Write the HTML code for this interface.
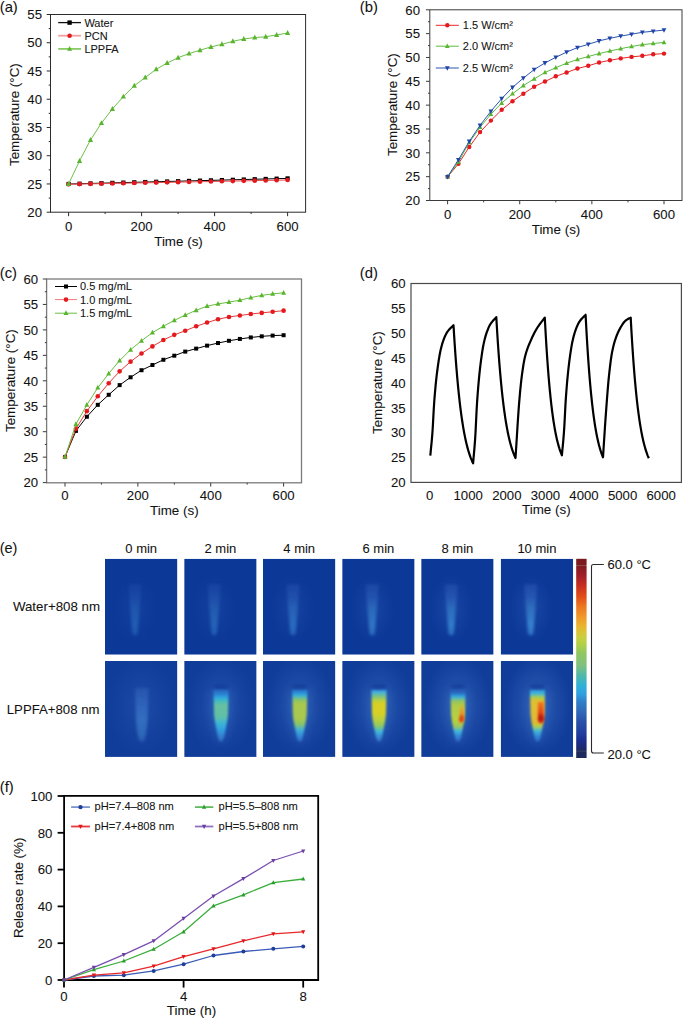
<!DOCTYPE html><html><head><meta charset="utf-8"><style>html,body{margin:0;padding:0;background:#fff;}svg{display:block;font-family:"Liberation Sans", sans-serif;} text{stroke:#222;stroke-width:0.08px;}</style></head><body>
<svg width="685" height="1019" viewBox="0 0 685 1019">
<rect width="685" height="1019" fill="#fff"/>
<rect x="50.5" y="14.5" width="255.1" height="197.7" stroke="#2b2b2b" stroke-width="1" fill="none" />
<line x1="46.7" y1="212.2" x2="50.5" y2="212.2" stroke="#2b2b2b" stroke-width="1" />
<text x="42" y="216.9" font-size="13.2" text-anchor="end" fill="#111" >20</text>
<line x1="46.7" y1="183.96" x2="50.5" y2="183.96" stroke="#2b2b2b" stroke-width="1" />
<text x="42" y="188.66" font-size="13.2" text-anchor="end" fill="#111" >25</text>
<line x1="46.7" y1="155.71" x2="50.5" y2="155.71" stroke="#2b2b2b" stroke-width="1" />
<text x="42" y="160.41" font-size="13.2" text-anchor="end" fill="#111" >30</text>
<line x1="46.7" y1="127.47" x2="50.5" y2="127.47" stroke="#2b2b2b" stroke-width="1" />
<text x="42" y="132.17" font-size="13.2" text-anchor="end" fill="#111" >35</text>
<line x1="46.7" y1="99.23" x2="50.5" y2="99.23" stroke="#2b2b2b" stroke-width="1" />
<text x="42" y="103.93" font-size="13.2" text-anchor="end" fill="#111" >40</text>
<line x1="46.7" y1="70.99" x2="50.5" y2="70.99" stroke="#2b2b2b" stroke-width="1" />
<text x="42" y="75.69" font-size="13.2" text-anchor="end" fill="#111" >45</text>
<line x1="46.7" y1="42.74" x2="50.5" y2="42.74" stroke="#2b2b2b" stroke-width="1" />
<text x="42" y="47.44" font-size="13.2" text-anchor="end" fill="#111" >50</text>
<line x1="46.7" y1="14.5" x2="50.5" y2="14.5" stroke="#2b2b2b" stroke-width="1" />
<text x="42" y="19.2" font-size="13.2" text-anchor="end" fill="#111" >55</text>
<line x1="48.7" y1="198.08" x2="50.5" y2="198.08" stroke="#2b2b2b" stroke-width="1" />
<line x1="48.7" y1="169.84" x2="50.5" y2="169.84" stroke="#2b2b2b" stroke-width="1" />
<line x1="48.7" y1="141.59" x2="50.5" y2="141.59" stroke="#2b2b2b" stroke-width="1" />
<line x1="48.7" y1="113.35" x2="50.5" y2="113.35" stroke="#2b2b2b" stroke-width="1" />
<line x1="48.7" y1="85.11" x2="50.5" y2="85.11" stroke="#2b2b2b" stroke-width="1" />
<line x1="48.7" y1="56.86" x2="50.5" y2="56.86" stroke="#2b2b2b" stroke-width="1" />
<line x1="48.7" y1="28.62" x2="50.5" y2="28.62" stroke="#2b2b2b" stroke-width="1" />
<line x1="68.6" y1="212.2" x2="68.6" y2="216.2" stroke="#2b2b2b" stroke-width="1" />
<text x="68.6" y="230.8" font-size="13.2" text-anchor="middle" fill="#111" >0</text>
<line x1="141.6" y1="212.2" x2="141.6" y2="216.2" stroke="#2b2b2b" stroke-width="1" />
<text x="141.6" y="230.8" font-size="13.2" text-anchor="middle" fill="#111" >200</text>
<line x1="214.6" y1="212.2" x2="214.6" y2="216.2" stroke="#2b2b2b" stroke-width="1" />
<text x="214.6" y="230.8" font-size="13.2" text-anchor="middle" fill="#111" >400</text>
<line x1="287.6" y1="212.2" x2="287.6" y2="216.2" stroke="#2b2b2b" stroke-width="1" />
<text x="287.6" y="230.8" font-size="13.2" text-anchor="middle" fill="#111" >600</text>
<line x1="105.1" y1="212.2" x2="105.1" y2="214" stroke="#2b2b2b" stroke-width="1" />
<line x1="178.1" y1="212.2" x2="178.1" y2="214" stroke="#2b2b2b" stroke-width="1" />
<line x1="251.1" y1="212.2" x2="251.1" y2="214" stroke="#2b2b2b" stroke-width="1" />
<text x="0" y="0" font-size="13.4" text-anchor="middle" fill="#111" transform="translate(18.8,114.6) rotate(-90)">Temperature (°C)</text>
<text x="178.5" y="246.1" font-size="13.4" text-anchor="middle" fill="#111" >Time (s)</text>
<text x="-0.3" y="11.6" font-size="14.8" text-anchor="start" fill="#111" >(a)</text>
<polyline points="68.6,184 79.55,183.72 90.5,183.44 101.45,183.16 112.4,182.88 123.35,182.6 134.3,182.32 145.25,182.04 156.2,181.76 167.15,181.48 178.1,181.2 189.05,180.92 200,180.64 210.95,180.36 221.9,180.08 232.85,179.8 243.8,179.52 254.75,179.24 265.7,178.96 276.65,178.68 287.6,178.4" fill="none" stroke="#000" stroke-width="1" stroke-linejoin="round" />
<rect x="66.5" y="181.9" width="4.2" height="4.2" fill="#000"/>
<rect x="77.45" y="181.62" width="4.2" height="4.2" fill="#000"/>
<rect x="88.4" y="181.34" width="4.2" height="4.2" fill="#000"/>
<rect x="99.35" y="181.06" width="4.2" height="4.2" fill="#000"/>
<rect x="110.3" y="180.78" width="4.2" height="4.2" fill="#000"/>
<rect x="121.25" y="180.5" width="4.2" height="4.2" fill="#000"/>
<rect x="132.2" y="180.22" width="4.2" height="4.2" fill="#000"/>
<rect x="143.15" y="179.94" width="4.2" height="4.2" fill="#000"/>
<rect x="154.1" y="179.66" width="4.2" height="4.2" fill="#000"/>
<rect x="165.05" y="179.38" width="4.2" height="4.2" fill="#000"/>
<rect x="176" y="179.1" width="4.2" height="4.2" fill="#000"/>
<rect x="186.95" y="178.82" width="4.2" height="4.2" fill="#000"/>
<rect x="197.9" y="178.54" width="4.2" height="4.2" fill="#000"/>
<rect x="208.85" y="178.26" width="4.2" height="4.2" fill="#000"/>
<rect x="219.8" y="177.98" width="4.2" height="4.2" fill="#000"/>
<rect x="230.75" y="177.7" width="4.2" height="4.2" fill="#000"/>
<rect x="241.7" y="177.42" width="4.2" height="4.2" fill="#000"/>
<rect x="252.65" y="177.14" width="4.2" height="4.2" fill="#000"/>
<rect x="263.6" y="176.86" width="4.2" height="4.2" fill="#000"/>
<rect x="274.55" y="176.58" width="4.2" height="4.2" fill="#000"/>
<rect x="285.5" y="176.3" width="4.2" height="4.2" fill="#000"/>
<polyline points="68.6,184.3 79.55,184.09 90.5,183.87 101.45,183.66 112.4,183.44 123.35,183.23 134.3,183.01 145.25,182.8 156.2,182.58 167.15,182.37 178.1,182.15 189.05,181.94 200,181.72 210.95,181.51 221.9,181.29 232.85,181.08 243.8,180.86 254.75,180.65 265.7,180.43 276.65,180.22 287.6,180" fill="none" stroke="#e85050" stroke-width="1" stroke-linejoin="round" />
<circle cx="68.6" cy="184.3" r="2.3" fill="#e4191e"/>
<circle cx="79.55" cy="184.09" r="2.3" fill="#e4191e"/>
<circle cx="90.5" cy="183.87" r="2.3" fill="#e4191e"/>
<circle cx="101.45" cy="183.66" r="2.3" fill="#e4191e"/>
<circle cx="112.4" cy="183.44" r="2.3" fill="#e4191e"/>
<circle cx="123.35" cy="183.23" r="2.3" fill="#e4191e"/>
<circle cx="134.3" cy="183.01" r="2.3" fill="#e4191e"/>
<circle cx="145.25" cy="182.8" r="2.3" fill="#e4191e"/>
<circle cx="156.2" cy="182.58" r="2.3" fill="#e4191e"/>
<circle cx="167.15" cy="182.37" r="2.3" fill="#e4191e"/>
<circle cx="178.1" cy="182.15" r="2.3" fill="#e4191e"/>
<circle cx="189.05" cy="181.94" r="2.3" fill="#e4191e"/>
<circle cx="200" cy="181.72" r="2.3" fill="#e4191e"/>
<circle cx="210.95" cy="181.51" r="2.3" fill="#e4191e"/>
<circle cx="221.9" cy="181.29" r="2.3" fill="#e4191e"/>
<circle cx="232.85" cy="181.08" r="2.3" fill="#e4191e"/>
<circle cx="243.8" cy="180.86" r="2.3" fill="#e4191e"/>
<circle cx="254.75" cy="180.65" r="2.3" fill="#e4191e"/>
<circle cx="265.7" cy="180.43" r="2.3" fill="#e4191e"/>
<circle cx="276.65" cy="180.22" r="2.3" fill="#e4191e"/>
<circle cx="287.6" cy="180" r="2.3" fill="#e4191e"/>
<polyline points="68.6,184 79.55,160.9 90.5,139.9 101.45,123.1 112.4,108.9 123.35,96.6 134.3,85.7 145.25,77.5 156.2,69.3 167.15,63 178.1,57.7 189.05,53.6 200,50.2 210.95,46.9 221.9,44.3 232.85,41.3 243.8,39 254.75,37.5 265.7,36.8 276.65,34.9 287.6,33" fill="none" stroke="#6cc04a" stroke-width="1" stroke-linejoin="round" />
<path d="M68.6,181.04 L71.2,185.98 L66,185.98Z" fill="#5ab52e"/>
<path d="M79.55,157.94 L82.15,162.88 L76.95,162.88Z" fill="#5ab52e"/>
<path d="M90.5,136.94 L93.1,141.88 L87.9,141.88Z" fill="#5ab52e"/>
<path d="M101.45,120.14 L104.05,125.08 L98.85,125.08Z" fill="#5ab52e"/>
<path d="M112.4,105.94 L115,110.88 L109.8,110.88Z" fill="#5ab52e"/>
<path d="M123.35,93.64 L125.95,98.58 L120.75,98.58Z" fill="#5ab52e"/>
<path d="M134.3,82.74 L136.9,87.68 L131.7,87.68Z" fill="#5ab52e"/>
<path d="M145.25,74.54 L147.85,79.48 L142.65,79.48Z" fill="#5ab52e"/>
<path d="M156.2,66.34 L158.8,71.28 L153.6,71.28Z" fill="#5ab52e"/>
<path d="M167.15,60.04 L169.75,64.98 L164.55,64.98Z" fill="#5ab52e"/>
<path d="M178.1,54.74 L180.7,59.68 L175.5,59.68Z" fill="#5ab52e"/>
<path d="M189.05,50.64 L191.65,55.58 L186.45,55.58Z" fill="#5ab52e"/>
<path d="M200,47.24 L202.6,52.18 L197.4,52.18Z" fill="#5ab52e"/>
<path d="M210.95,43.94 L213.55,48.88 L208.35,48.88Z" fill="#5ab52e"/>
<path d="M221.9,41.34 L224.5,46.28 L219.3,46.28Z" fill="#5ab52e"/>
<path d="M232.85,38.34 L235.45,43.28 L230.25,43.28Z" fill="#5ab52e"/>
<path d="M243.8,36.04 L246.4,40.98 L241.2,40.98Z" fill="#5ab52e"/>
<path d="M254.75,34.54 L257.35,39.48 L252.15,39.48Z" fill="#5ab52e"/>
<path d="M265.7,33.84 L268.3,38.78 L263.1,38.78Z" fill="#5ab52e"/>
<path d="M276.65,31.94 L279.25,36.88 L274.05,36.88Z" fill="#5ab52e"/>
<path d="M287.6,30.04 L290.2,34.98 L285,34.98Z" fill="#5ab52e"/>
<line x1="58.2" y1="22.6" x2="81" y2="22.6" stroke="#111" stroke-width="1.3" />
<rect x="67.4" y="20.4" width="4.4" height="4.4" fill="#000"/>
<text x="84.4" y="26.56" font-size="11" text-anchor="start" fill="#111" >Water</text>
<line x1="58.2" y1="35.7" x2="81" y2="35.7" stroke="#f4a0a0" stroke-width="1.8" />
<circle cx="69.6" cy="35.7" r="2.3" fill="#e4191e"/>
<text x="84.4" y="39.66" font-size="11" text-anchor="start" fill="#111" >PCN</text>
<line x1="58.2" y1="48.9" x2="81" y2="48.9" stroke="#88cc66" stroke-width="1.8" />
<path d="M69.6,46.05 L72.1,50.8 L67.1,50.8Z" fill="#5ab52e"/>
<text x="84.4" y="52.86" font-size="11" text-anchor="start" fill="#111" >LPPFA</text>
<rect x="429.8" y="9.8" width="252.2" height="190.7" stroke="#3a3a3a" stroke-width="1" fill="none" />
<line x1="426" y1="200.5" x2="429.8" y2="200.5" stroke="#3a3a3a" stroke-width="1" />
<text x="420" y="205.2" font-size="13.2" text-anchor="end" fill="#111" >20</text>
<line x1="426" y1="176.66" x2="429.8" y2="176.66" stroke="#3a3a3a" stroke-width="1" />
<text x="420" y="181.36" font-size="13.2" text-anchor="end" fill="#111" >25</text>
<line x1="426" y1="152.82" x2="429.8" y2="152.82" stroke="#3a3a3a" stroke-width="1" />
<text x="420" y="157.52" font-size="13.2" text-anchor="end" fill="#111" >30</text>
<line x1="426" y1="128.99" x2="429.8" y2="128.99" stroke="#3a3a3a" stroke-width="1" />
<text x="420" y="133.69" font-size="13.2" text-anchor="end" fill="#111" >35</text>
<line x1="426" y1="105.15" x2="429.8" y2="105.15" stroke="#3a3a3a" stroke-width="1" />
<text x="420" y="109.85" font-size="13.2" text-anchor="end" fill="#111" >40</text>
<line x1="426" y1="81.31" x2="429.8" y2="81.31" stroke="#3a3a3a" stroke-width="1" />
<text x="420" y="86.01" font-size="13.2" text-anchor="end" fill="#111" >45</text>
<line x1="426" y1="57.47" x2="429.8" y2="57.47" stroke="#3a3a3a" stroke-width="1" />
<text x="420" y="62.17" font-size="13.2" text-anchor="end" fill="#111" >50</text>
<line x1="426" y1="33.64" x2="429.8" y2="33.64" stroke="#3a3a3a" stroke-width="1" />
<text x="420" y="38.34" font-size="13.2" text-anchor="end" fill="#111" >55</text>
<line x1="426" y1="9.8" x2="429.8" y2="9.8" stroke="#3a3a3a" stroke-width="1" />
<text x="420" y="14.5" font-size="13.2" text-anchor="end" fill="#111" >60</text>
<line x1="428" y1="188.58" x2="429.8" y2="188.58" stroke="#3a3a3a" stroke-width="1" />
<line x1="428" y1="164.74" x2="429.8" y2="164.74" stroke="#3a3a3a" stroke-width="1" />
<line x1="428" y1="140.91" x2="429.8" y2="140.91" stroke="#3a3a3a" stroke-width="1" />
<line x1="428" y1="117.07" x2="429.8" y2="117.07" stroke="#3a3a3a" stroke-width="1" />
<line x1="428" y1="93.23" x2="429.8" y2="93.23" stroke="#3a3a3a" stroke-width="1" />
<line x1="428" y1="69.39" x2="429.8" y2="69.39" stroke="#3a3a3a" stroke-width="1" />
<line x1="428" y1="45.56" x2="429.8" y2="45.56" stroke="#3a3a3a" stroke-width="1" />
<line x1="428" y1="21.72" x2="429.8" y2="21.72" stroke="#3a3a3a" stroke-width="1" />
<line x1="447.6" y1="200.5" x2="447.6" y2="204.3" stroke="#3a3a3a" stroke-width="1" />
<text x="447.6" y="218.7" font-size="13.2" text-anchor="middle" fill="#111" >0</text>
<line x1="519.73" y1="200.5" x2="519.73" y2="204.3" stroke="#3a3a3a" stroke-width="1" />
<text x="519.73" y="218.7" font-size="13.2" text-anchor="middle" fill="#111" >200</text>
<line x1="591.87" y1="200.5" x2="591.87" y2="204.3" stroke="#3a3a3a" stroke-width="1" />
<text x="591.87" y="218.7" font-size="13.2" text-anchor="middle" fill="#111" >400</text>
<line x1="664" y1="200.5" x2="664" y2="204.3" stroke="#3a3a3a" stroke-width="1" />
<text x="664" y="218.7" font-size="13.2" text-anchor="middle" fill="#111" >600</text>
<line x1="483.67" y1="200.5" x2="483.67" y2="202.3" stroke="#3a3a3a" stroke-width="1" />
<line x1="555.8" y1="200.5" x2="555.8" y2="202.3" stroke="#3a3a3a" stroke-width="1" />
<line x1="627.93" y1="200.5" x2="627.93" y2="202.3" stroke="#3a3a3a" stroke-width="1" />
<text x="0" y="0" font-size="13.4" text-anchor="middle" fill="#111" transform="translate(397.2,104.6) rotate(-90)">Temperature (°C)</text>
<text x="556" y="234.1" font-size="13.4" text-anchor="middle" fill="#111" >Time (s)</text>
<text x="359.8" y="11.6" font-size="14.8" text-anchor="start" fill="#111" >(b)</text>
<polyline points="447.6,176.8 458.42,163.8 469.24,147 480.06,132.1 490.88,120.6 501.7,109.8 512.52,101.2 523.34,93.8 534.16,86.7 544.98,81.5 555.8,76.3 566.62,72.5 577.44,68.5 588.26,65.8 599.08,62.5 609.9,60.3 620.72,58.4 631.54,56.9 642.36,55.8 653.18,54.3 664,53.6" fill="none" stroke="#e8262a" stroke-width="1" stroke-linejoin="round" />
<circle cx="447.6" cy="176.8" r="2.2" fill="#e4191e"/>
<circle cx="458.42" cy="163.8" r="2.2" fill="#e4191e"/>
<circle cx="469.24" cy="147" r="2.2" fill="#e4191e"/>
<circle cx="480.06" cy="132.1" r="2.2" fill="#e4191e"/>
<circle cx="490.88" cy="120.6" r="2.2" fill="#e4191e"/>
<circle cx="501.7" cy="109.8" r="2.2" fill="#e4191e"/>
<circle cx="512.52" cy="101.2" r="2.2" fill="#e4191e"/>
<circle cx="523.34" cy="93.8" r="2.2" fill="#e4191e"/>
<circle cx="534.16" cy="86.7" r="2.2" fill="#e4191e"/>
<circle cx="544.98" cy="81.5" r="2.2" fill="#e4191e"/>
<circle cx="555.8" cy="76.3" r="2.2" fill="#e4191e"/>
<circle cx="566.62" cy="72.5" r="2.2" fill="#e4191e"/>
<circle cx="577.44" cy="68.5" r="2.2" fill="#e4191e"/>
<circle cx="588.26" cy="65.8" r="2.2" fill="#e4191e"/>
<circle cx="599.08" cy="62.5" r="2.2" fill="#e4191e"/>
<circle cx="609.9" cy="60.3" r="2.2" fill="#e4191e"/>
<circle cx="620.72" cy="58.4" r="2.2" fill="#e4191e"/>
<circle cx="631.54" cy="56.9" r="2.2" fill="#e4191e"/>
<circle cx="642.36" cy="55.8" r="2.2" fill="#e4191e"/>
<circle cx="653.18" cy="54.3" r="2.2" fill="#e4191e"/>
<circle cx="664" cy="53.6" r="2.2" fill="#e4191e"/>
<polyline points="447.6,176.8 458.42,161.9 469.24,142.5 480.06,127.3 490.88,114.2 501.7,103.1 512.52,93.8 523.34,85.6 534.16,78.9 544.98,72.5 555.8,67.7 566.62,63.2 577.44,59.5 588.26,56.5 599.08,53.6 609.9,51 620.72,48.7 631.54,46.5 642.36,44.6 653.18,43.5 664,42.4" fill="none" stroke="#5dbb46" stroke-width="1" stroke-linejoin="round" />
<path d="M447.6,174.06 L450,178.62 L445.2,178.62Z" fill="#5ab52e"/>
<path d="M458.42,159.16 L460.82,163.72 L456.02,163.72Z" fill="#5ab52e"/>
<path d="M469.24,139.76 L471.64,144.32 L466.84,144.32Z" fill="#5ab52e"/>
<path d="M480.06,124.56 L482.46,129.12 L477.66,129.12Z" fill="#5ab52e"/>
<path d="M490.88,111.46 L493.28,116.02 L488.48,116.02Z" fill="#5ab52e"/>
<path d="M501.7,100.36 L504.1,104.92 L499.3,104.92Z" fill="#5ab52e"/>
<path d="M512.52,91.06 L514.92,95.62 L510.12,95.62Z" fill="#5ab52e"/>
<path d="M523.34,82.86 L525.74,87.42 L520.94,87.42Z" fill="#5ab52e"/>
<path d="M534.16,76.16 L536.56,80.72 L531.76,80.72Z" fill="#5ab52e"/>
<path d="M544.98,69.76 L547.38,74.32 L542.58,74.32Z" fill="#5ab52e"/>
<path d="M555.8,64.96 L558.2,69.52 L553.4,69.52Z" fill="#5ab52e"/>
<path d="M566.62,60.46 L569.02,65.02 L564.22,65.02Z" fill="#5ab52e"/>
<path d="M577.44,56.76 L579.84,61.32 L575.04,61.32Z" fill="#5ab52e"/>
<path d="M588.26,53.76 L590.66,58.32 L585.86,58.32Z" fill="#5ab52e"/>
<path d="M599.08,50.86 L601.48,55.42 L596.68,55.42Z" fill="#5ab52e"/>
<path d="M609.9,48.26 L612.3,52.82 L607.5,52.82Z" fill="#5ab52e"/>
<path d="M620.72,45.96 L623.12,50.52 L618.32,50.52Z" fill="#5ab52e"/>
<path d="M631.54,43.76 L633.94,48.32 L629.14,48.32Z" fill="#5ab52e"/>
<path d="M642.36,41.86 L644.76,46.42 L639.96,46.42Z" fill="#5ab52e"/>
<path d="M653.18,40.76 L655.58,45.32 L650.78,45.32Z" fill="#5ab52e"/>
<path d="M664,39.66 L666.4,44.22 L661.6,44.22Z" fill="#5ab52e"/>
<polyline points="447.6,176.8 458.42,159.7 469.24,141.4 480.06,125.4 490.88,111.3 501.7,98.6 512.52,87.4 523.34,78.1 534.16,69.6 544.98,62.9 555.8,57.3 566.62,52.1 577.44,47.6 588.26,44.3 599.08,40.9 609.9,38.3 620.72,36.1 631.54,34.2 642.36,32.3 653.18,31.2 664,30.1" fill="none" stroke="#2d55b0" stroke-width="1" stroke-linejoin="round" />
<path d="M447.6,179.54 L450,174.98 L445.2,174.98Z" fill="#1f45a8"/>
<path d="M458.42,162.44 L460.82,157.88 L456.02,157.88Z" fill="#1f45a8"/>
<path d="M469.24,144.14 L471.64,139.58 L466.84,139.58Z" fill="#1f45a8"/>
<path d="M480.06,128.14 L482.46,123.58 L477.66,123.58Z" fill="#1f45a8"/>
<path d="M490.88,114.04 L493.28,109.48 L488.48,109.48Z" fill="#1f45a8"/>
<path d="M501.7,101.34 L504.1,96.78 L499.3,96.78Z" fill="#1f45a8"/>
<path d="M512.52,90.14 L514.92,85.58 L510.12,85.58Z" fill="#1f45a8"/>
<path d="M523.34,80.84 L525.74,76.28 L520.94,76.28Z" fill="#1f45a8"/>
<path d="M534.16,72.34 L536.56,67.78 L531.76,67.78Z" fill="#1f45a8"/>
<path d="M544.98,65.64 L547.38,61.08 L542.58,61.08Z" fill="#1f45a8"/>
<path d="M555.8,60.04 L558.2,55.48 L553.4,55.48Z" fill="#1f45a8"/>
<path d="M566.62,54.84 L569.02,50.28 L564.22,50.28Z" fill="#1f45a8"/>
<path d="M577.44,50.34 L579.84,45.78 L575.04,45.78Z" fill="#1f45a8"/>
<path d="M588.26,47.04 L590.66,42.48 L585.86,42.48Z" fill="#1f45a8"/>
<path d="M599.08,43.64 L601.48,39.08 L596.68,39.08Z" fill="#1f45a8"/>
<path d="M609.9,41.04 L612.3,36.48 L607.5,36.48Z" fill="#1f45a8"/>
<path d="M620.72,38.84 L623.12,34.28 L618.32,34.28Z" fill="#1f45a8"/>
<path d="M631.54,36.94 L633.94,32.38 L629.14,32.38Z" fill="#1f45a8"/>
<path d="M642.36,35.04 L644.76,30.48 L639.96,30.48Z" fill="#1f45a8"/>
<path d="M653.18,33.94 L655.58,29.38 L650.78,29.38Z" fill="#1f45a8"/>
<path d="M664,32.84 L666.4,28.28 L661.6,28.28Z" fill="#1f45a8"/>
<line x1="435.8" y1="25.3" x2="458.8" y2="25.3" stroke="#e8262a" stroke-width="1" />
<circle cx="447.3" cy="25.3" r="2.2" fill="#e4191e"/>
<text x="462.8" y="29.26" font-size="11" text-anchor="start" fill="#111" >1.5 W/cm²</text>
<line x1="435.8" y1="46.2" x2="458.8" y2="46.2" stroke="#5dbb46" stroke-width="1" />
<path d="M447.3,43.46 L449.7,48.02 L444.9,48.02Z" fill="#5ab52e"/>
<text x="462.8" y="50.16" font-size="11" text-anchor="start" fill="#111" >2.0 W/cm²</text>
<line x1="435.8" y1="68" x2="458.8" y2="68" stroke="#2d55b0" stroke-width="1" />
<path d="M447.3,70.74 L449.7,66.18 L444.9,66.18Z" fill="#1f45a8"/>
<text x="462.8" y="71.96" font-size="11" text-anchor="start" fill="#111" >2.5 W/cm²</text>
<rect x="46.6" y="279" width="254.9" height="203.8" stroke="#7a7a7a" stroke-width="1.3" fill="none" />
<line x1="42.8" y1="482.6" x2="46.6" y2="482.6" stroke="#3a3a3a" stroke-width="1" />
<text x="38.1" y="487.3" font-size="13.2" text-anchor="end" fill="#111" >20</text>
<line x1="42.8" y1="457.15" x2="46.6" y2="457.15" stroke="#3a3a3a" stroke-width="1" />
<text x="38.1" y="461.85" font-size="13.2" text-anchor="end" fill="#111" >25</text>
<line x1="42.8" y1="431.7" x2="46.6" y2="431.7" stroke="#3a3a3a" stroke-width="1" />
<text x="38.1" y="436.4" font-size="13.2" text-anchor="end" fill="#111" >30</text>
<line x1="42.8" y1="406.25" x2="46.6" y2="406.25" stroke="#3a3a3a" stroke-width="1" />
<text x="38.1" y="410.95" font-size="13.2" text-anchor="end" fill="#111" >35</text>
<line x1="42.8" y1="380.8" x2="46.6" y2="380.8" stroke="#3a3a3a" stroke-width="1" />
<text x="38.1" y="385.5" font-size="13.2" text-anchor="end" fill="#111" >40</text>
<line x1="42.8" y1="355.35" x2="46.6" y2="355.35" stroke="#3a3a3a" stroke-width="1" />
<text x="38.1" y="360.05" font-size="13.2" text-anchor="end" fill="#111" >45</text>
<line x1="42.8" y1="329.9" x2="46.6" y2="329.9" stroke="#3a3a3a" stroke-width="1" />
<text x="38.1" y="334.6" font-size="13.2" text-anchor="end" fill="#111" >50</text>
<line x1="42.8" y1="304.45" x2="46.6" y2="304.45" stroke="#3a3a3a" stroke-width="1" />
<text x="38.1" y="309.15" font-size="13.2" text-anchor="end" fill="#111" >55</text>
<line x1="42.8" y1="279" x2="46.6" y2="279" stroke="#3a3a3a" stroke-width="1" />
<text x="38.1" y="283.7" font-size="13.2" text-anchor="end" fill="#111" >60</text>
<line x1="44.8" y1="469.88" x2="46.6" y2="469.88" stroke="#3a3a3a" stroke-width="1" />
<line x1="44.8" y1="444.43" x2="46.6" y2="444.43" stroke="#3a3a3a" stroke-width="1" />
<line x1="44.8" y1="418.98" x2="46.6" y2="418.98" stroke="#3a3a3a" stroke-width="1" />
<line x1="44.8" y1="393.52" x2="46.6" y2="393.52" stroke="#3a3a3a" stroke-width="1" />
<line x1="44.8" y1="368.07" x2="46.6" y2="368.07" stroke="#3a3a3a" stroke-width="1" />
<line x1="44.8" y1="342.62" x2="46.6" y2="342.62" stroke="#3a3a3a" stroke-width="1" />
<line x1="44.8" y1="317.18" x2="46.6" y2="317.18" stroke="#3a3a3a" stroke-width="1" />
<line x1="44.8" y1="291.73" x2="46.6" y2="291.73" stroke="#3a3a3a" stroke-width="1" />
<line x1="65" y1="482.8" x2="65" y2="486.6" stroke="#3a3a3a" stroke-width="1" />
<text x="65" y="499.5" font-size="13.2" text-anchor="middle" fill="#111" >0</text>
<line x1="137.87" y1="482.8" x2="137.87" y2="486.6" stroke="#3a3a3a" stroke-width="1" />
<text x="137.87" y="499.5" font-size="13.2" text-anchor="middle" fill="#111" >200</text>
<line x1="210.73" y1="482.8" x2="210.73" y2="486.6" stroke="#3a3a3a" stroke-width="1" />
<text x="210.73" y="499.5" font-size="13.2" text-anchor="middle" fill="#111" >400</text>
<line x1="283.6" y1="482.8" x2="283.6" y2="486.6" stroke="#3a3a3a" stroke-width="1" />
<text x="283.6" y="499.5" font-size="13.2" text-anchor="middle" fill="#111" >600</text>
<line x1="101.43" y1="482.8" x2="101.43" y2="484.6" stroke="#3a3a3a" stroke-width="1" />
<line x1="174.3" y1="482.8" x2="174.3" y2="484.6" stroke="#3a3a3a" stroke-width="1" />
<line x1="247.17" y1="482.8" x2="247.17" y2="484.6" stroke="#3a3a3a" stroke-width="1" />
<text x="0" y="0" font-size="13.4" text-anchor="middle" fill="#111" transform="translate(15.4,380.6) rotate(-90)">Temperature (°C)</text>
<text x="174.3" y="515" font-size="13.4" text-anchor="middle" fill="#111" >Time (s)</text>
<text x="-0.3" y="277.6" font-size="14.8" text-anchor="start" fill="#111" >(c)</text>
<polyline points="65,456.96 75.93,430.9 86.86,416.75 97.79,404.84 108.72,394.79 119.65,385.11 130.58,377.29 141.51,370.21 152.44,365 163.37,359.79 174.3,355.69 185.23,351.6 196.16,348.62 207.09,345.64 218.02,343.04 228.95,340.8 239.88,338.94 250.81,337.45 261.74,336.33 272.67,335.59 283.6,335.22" fill="none" stroke="#000" stroke-width="1" stroke-linejoin="round" />
<rect x="63" y="454.96" width="4" height="4" fill="#000"/>
<rect x="73.93" y="428.9" width="4" height="4" fill="#000"/>
<rect x="84.86" y="414.75" width="4" height="4" fill="#000"/>
<rect x="95.79" y="402.84" width="4" height="4" fill="#000"/>
<rect x="106.72" y="392.79" width="4" height="4" fill="#000"/>
<rect x="117.65" y="383.11" width="4" height="4" fill="#000"/>
<rect x="128.58" y="375.29" width="4" height="4" fill="#000"/>
<rect x="139.51" y="368.21" width="4" height="4" fill="#000"/>
<rect x="150.44" y="363" width="4" height="4" fill="#000"/>
<rect x="161.37" y="357.79" width="4" height="4" fill="#000"/>
<rect x="172.3" y="353.69" width="4" height="4" fill="#000"/>
<rect x="183.23" y="349.6" width="4" height="4" fill="#000"/>
<rect x="194.16" y="346.62" width="4" height="4" fill="#000"/>
<rect x="205.09" y="343.64" width="4" height="4" fill="#000"/>
<rect x="216.02" y="341.04" width="4" height="4" fill="#000"/>
<rect x="226.95" y="338.8" width="4" height="4" fill="#000"/>
<rect x="237.88" y="336.94" width="4" height="4" fill="#000"/>
<rect x="248.81" y="335.45" width="4" height="4" fill="#000"/>
<rect x="259.74" y="334.33" width="4" height="4" fill="#000"/>
<rect x="270.67" y="333.59" width="4" height="4" fill="#000"/>
<rect x="281.6" y="333.22" width="4" height="4" fill="#000"/>
<polyline points="65,456.96 75.93,428.66 86.86,411.17 97.79,396.27 108.72,383.24 119.65,371.33 130.58,361.65 141.51,353.46 152.44,346.39 163.37,340.06 174.3,334.85 185.23,330.75 196.16,326.28 207.09,322.56 218.02,319.21 228.95,316.97 239.88,315.49 250.81,314 261.74,312.88 272.67,311.76 283.6,310.65" fill="none" stroke="#e83838" stroke-width="1" stroke-linejoin="round" />
<circle cx="65" cy="456.96" r="2.3" fill="#e4191e"/>
<circle cx="75.93" cy="428.66" r="2.3" fill="#e4191e"/>
<circle cx="86.86" cy="411.17" r="2.3" fill="#e4191e"/>
<circle cx="97.79" cy="396.27" r="2.3" fill="#e4191e"/>
<circle cx="108.72" cy="383.24" r="2.3" fill="#e4191e"/>
<circle cx="119.65" cy="371.33" r="2.3" fill="#e4191e"/>
<circle cx="130.58" cy="361.65" r="2.3" fill="#e4191e"/>
<circle cx="141.51" cy="353.46" r="2.3" fill="#e4191e"/>
<circle cx="152.44" cy="346.39" r="2.3" fill="#e4191e"/>
<circle cx="163.37" cy="340.06" r="2.3" fill="#e4191e"/>
<circle cx="174.3" cy="334.85" r="2.3" fill="#e4191e"/>
<circle cx="185.23" cy="330.75" r="2.3" fill="#e4191e"/>
<circle cx="196.16" cy="326.28" r="2.3" fill="#e4191e"/>
<circle cx="207.09" cy="322.56" r="2.3" fill="#e4191e"/>
<circle cx="218.02" cy="319.21" r="2.3" fill="#e4191e"/>
<circle cx="228.95" cy="316.97" r="2.3" fill="#e4191e"/>
<circle cx="239.88" cy="315.49" r="2.3" fill="#e4191e"/>
<circle cx="250.81" cy="314" r="2.3" fill="#e4191e"/>
<circle cx="261.74" cy="312.88" r="2.3" fill="#e4191e"/>
<circle cx="272.67" cy="311.76" r="2.3" fill="#e4191e"/>
<circle cx="283.6" cy="310.65" r="2.3" fill="#e4191e"/>
<polyline points="65,456.96 75.93,424.2 86.86,404.84 97.79,387.71 108.72,373.56 119.65,360.53 130.58,349.74 141.51,340.8 152.44,332.61 163.37,326.28 174.3,320.33 185.23,315.11 196.16,310.27 207.09,306.18 218.02,303.94 228.95,302.08 239.88,300.22 250.81,297.62 261.74,295.38 272.67,293.89 283.6,292.78" fill="none" stroke="#6abf40" stroke-width="1" stroke-linejoin="round" />
<path d="M65,454.11 L67.5,458.86 L62.5,458.86Z" fill="#5ab52e"/>
<path d="M75.93,421.35 L78.43,426.1 L73.43,426.1Z" fill="#5ab52e"/>
<path d="M86.86,401.99 L89.36,406.74 L84.36,406.74Z" fill="#5ab52e"/>
<path d="M97.79,384.86 L100.29,389.61 L95.29,389.61Z" fill="#5ab52e"/>
<path d="M108.72,370.71 L111.22,375.46 L106.22,375.46Z" fill="#5ab52e"/>
<path d="M119.65,357.68 L122.15,362.43 L117.15,362.43Z" fill="#5ab52e"/>
<path d="M130.58,346.89 L133.08,351.64 L128.08,351.64Z" fill="#5ab52e"/>
<path d="M141.51,337.95 L144.01,342.7 L139.01,342.7Z" fill="#5ab52e"/>
<path d="M152.44,329.76 L154.94,334.51 L149.94,334.51Z" fill="#5ab52e"/>
<path d="M163.37,323.43 L165.87,328.18 L160.87,328.18Z" fill="#5ab52e"/>
<path d="M174.3,317.48 L176.8,322.23 L171.8,322.23Z" fill="#5ab52e"/>
<path d="M185.23,312.26 L187.73,317.01 L182.73,317.01Z" fill="#5ab52e"/>
<path d="M196.16,307.42 L198.66,312.17 L193.66,312.17Z" fill="#5ab52e"/>
<path d="M207.09,303.33 L209.59,308.08 L204.59,308.08Z" fill="#5ab52e"/>
<path d="M218.02,301.09 L220.52,305.84 L215.52,305.84Z" fill="#5ab52e"/>
<path d="M228.95,299.23 L231.45,303.98 L226.45,303.98Z" fill="#5ab52e"/>
<path d="M239.88,297.37 L242.38,302.12 L237.38,302.12Z" fill="#5ab52e"/>
<path d="M250.81,294.77 L253.31,299.52 L248.31,299.52Z" fill="#5ab52e"/>
<path d="M261.74,292.53 L264.24,297.28 L259.24,297.28Z" fill="#5ab52e"/>
<path d="M272.67,291.04 L275.17,295.79 L270.17,295.79Z" fill="#5ab52e"/>
<path d="M283.6,289.93 L286.1,294.68 L281.1,294.68Z" fill="#5ab52e"/>
<line x1="55" y1="286.5" x2="77" y2="286.5" stroke="#000" stroke-width="1" />
<rect x="64" y="284.5" width="4" height="4" fill="#000"/>
<text x="80" y="290.46" font-size="11" text-anchor="start" fill="#111" >0.5 mg/mL</text>
<line x1="55" y1="299.6" x2="77" y2="299.6" stroke="#f07878" stroke-width="1" />
<circle cx="66" cy="299.6" r="2.3" fill="#e4191e"/>
<text x="80" y="303.56" font-size="11" text-anchor="start" fill="#111" >1.0 mg/mL</text>
<line x1="55" y1="313.2" x2="77" y2="313.2" stroke="#6abf40" stroke-width="1" />
<path d="M66,310.35 L68.5,315.1 L63.5,315.1Z" fill="#5ab52e"/>
<text x="80" y="317.16" font-size="11" text-anchor="start" fill="#111" >1.5 mg/mL</text>
<rect x="411" y="283.5" width="270.4" height="198.9" stroke="#4a4a4a" stroke-width="1.2" fill="none" />
<text x="405.6" y="487.1" font-size="13.2" text-anchor="end" fill="#111" >20</text>
<text x="405.6" y="462.24" font-size="13.2" text-anchor="end" fill="#111" >25</text>
<text x="405.6" y="437.37" font-size="13.2" text-anchor="end" fill="#111" >30</text>
<text x="405.6" y="412.51" font-size="13.2" text-anchor="end" fill="#111" >35</text>
<text x="405.6" y="387.65" font-size="13.2" text-anchor="end" fill="#111" >40</text>
<text x="405.6" y="362.79" font-size="13.2" text-anchor="end" fill="#111" >45</text>
<text x="405.6" y="337.93" font-size="13.2" text-anchor="end" fill="#111" >50</text>
<text x="405.6" y="313.06" font-size="13.2" text-anchor="end" fill="#111" >55</text>
<text x="405.6" y="288.2" font-size="13.2" text-anchor="end" fill="#111" >60</text>
<text x="429.6" y="499.6" font-size="13.2" text-anchor="middle" fill="#111" >0</text>
<text x="468.2" y="499.6" font-size="13.2" text-anchor="middle" fill="#111" >1000</text>
<text x="506.8" y="499.6" font-size="13.2" text-anchor="middle" fill="#111" >2000</text>
<text x="545.4" y="499.6" font-size="13.2" text-anchor="middle" fill="#111" >3000</text>
<text x="584" y="499.6" font-size="13.2" text-anchor="middle" fill="#111" >4000</text>
<text x="622.6" y="499.6" font-size="13.2" text-anchor="middle" fill="#111" >5000</text>
<text x="661.2" y="499.6" font-size="13.2" text-anchor="middle" fill="#111" >6000</text>
<text x="0" y="0" font-size="13.4" text-anchor="middle" fill="#111" transform="translate(381.7,382.6) rotate(-90)">Temperature (°C)</text>
<text x="546.3" y="513.8" font-size="13.4" text-anchor="middle" fill="#111" >Time (s)</text>
<text x="359.8" y="277.6" font-size="14.8" text-anchor="start" fill="#111" >(d)</text>
<polyline points="430.3,455.6 430.69,451.57 431.07,447.7 431.46,443.8 431.85,439.66 432.23,435.08 432.62,429.73 433.01,423.07 433.39,415.8 433.78,408.76 434.17,402.78 434.55,397.66 434.94,392.93 435.33,388.54 435.71,384.47 436.1,380.7 436.49,377.18 436.87,373.87 437.26,370.75 437.65,367.82 438.03,365.06 438.42,362.46 438.81,359.95 439.19,357.55 439.58,355.29 439.97,353.18 440.35,351.26 440.74,349.53 441.13,347.92 441.51,346.41 441.9,344.98 442.29,343.65 442.67,342.39 443.06,341.23 443.45,340.14 443.83,339.12 444.22,338.14 444.61,337.2 444.99,336.3 445.38,335.45 445.77,334.64 446.15,333.88 446.54,333.17 446.93,332.51 447.31,331.91 447.7,331.35 448.09,330.84 448.47,330.35 448.86,329.89 449.25,329.45 449.63,329.03 450.02,328.63 450.41,328.25 450.79,327.87 451.18,327.5 451.57,327.13 451.95,326.76 452.34,326.39 452.73,326 453.11,325.61 453.5,325.2 453.83,330.66 454.15,335.93 454.48,341.02 454.81,345.93 455.13,350.67 455.46,355.25 455.79,359.66 456.11,363.92 456.44,368.04 456.77,372.01 457.09,375.84 457.42,379.53 457.75,383.1 458.07,386.55 458.4,389.87 458.73,393.08 459.05,396.18 459.38,399.17 459.71,402.05 460.03,404.84 460.36,407.52 460.69,410.12 461.01,412.62 461.34,415.04 461.67,417.37 461.99,419.62 462.32,421.79 462.65,423.89 462.97,425.91 463.3,427.87 463.63,429.75 463.95,431.57 464.28,433.33 464.61,435.02 464.93,436.66 465.26,438.24 465.59,439.76 465.91,441.23 466.24,442.65 466.57,444.02 466.89,445.34 467.22,446.62 467.55,447.85 467.87,449.04 468.2,450.19 468.53,451.29 468.85,452.36 469.18,453.4 469.51,454.39 469.83,455.35 470.16,456.28 470.49,457.17 470.81,458.04 471.14,458.87 471.47,459.68 471.79,460.45 472.12,461.2 472.45,461.93 472.77,462.63 473.1,463.3 473.49,458.78 473.87,454.44 474.26,450.07 474.65,445.43 475.03,440.3 475.42,434.3 475.81,426.83 476.19,418.68 476.58,410.78 476.97,404.08 477.35,398.34 477.74,393.03 478.13,388.11 478.51,383.55 478.9,379.33 479.29,375.38 479.67,371.66 480.06,368.17 480.45,364.88 480.83,361.79 481.22,358.87 481.61,356.06 481.99,353.37 482.38,350.83 482.77,348.47 483.15,346.31 483.54,344.38 483.93,342.58 484.31,340.88 484.7,339.28 485.09,337.78 485.47,336.38 485.86,335.07 486.25,333.85 486.63,332.71 487.02,331.61 487.41,330.55 487.79,329.55 488.18,328.59 488.57,327.68 488.95,326.83 489.34,326.03 489.73,325.29 490.11,324.62 490.5,324 490.89,323.42 491.27,322.87 491.66,322.36 492.05,321.87 492.43,321.4 492.82,320.95 493.21,320.52 493.59,320.09 493.98,319.68 494.37,319.26 494.75,318.85 495.14,318.43 495.53,318 495.91,317.56 496.3,317.1 496.62,322.67 496.94,328.05 497.26,333.24 497.58,338.25 497.9,343.09 498.22,347.76 498.54,352.26 498.86,356.61 499.18,360.8 499.5,364.85 499.82,368.76 500.14,372.54 500.46,376.18 500.78,379.69 501.1,383.08 501.42,386.36 501.74,389.52 502.06,392.57 502.38,395.51 502.7,398.35 503.02,401.09 503.34,403.74 503.66,406.29 503.98,408.76 504.3,411.14 504.62,413.44 504.94,415.65 505.26,417.79 505.58,419.86 505.9,421.85 506.22,423.77 506.54,425.63 506.86,427.42 507.18,429.15 507.5,430.82 507.82,432.43 508.14,433.98 508.46,435.48 508.78,436.93 509.1,438.33 509.42,439.68 509.74,440.98 510.06,442.24 510.38,443.45 510.7,444.62 511.02,445.75 511.34,446.84 511.66,447.89 511.98,448.91 512.3,449.89 512.62,450.84 512.94,451.75 513.26,452.63 513.58,453.48 513.9,454.3 514.22,455.1 514.54,455.86 514.86,456.6 515.18,457.31 515.5,458 515.99,450.53 516.48,442.81 516.97,434.98 517.45,427.2 517.94,419.62 518.43,412.39 518.92,405.65 519.41,399.56 519.89,394.04 520.38,388.85 520.87,384.03 521.36,379.64 521.85,375.71 522.34,372.12 522.83,368.72 523.31,365.53 523.8,362.6 524.29,359.98 524.78,357.68 525.27,355.72 525.75,353.93 526.24,352.28 526.73,350.74 527.22,349.3 527.71,347.95 528.2,346.67 528.68,345.46 529.17,344.28 529.66,343.13 530.15,341.99 530.64,340.85 531.13,339.72 531.62,338.63 532.1,337.55 532.59,336.51 533.08,335.49 533.57,334.5 534.06,333.54 534.54,332.6 535.03,331.69 535.52,330.8 536.01,329.94 536.5,329.11 536.99,328.3 537.47,327.52 537.96,326.77 538.45,326.05 538.94,325.35 539.43,324.66 539.92,324 540.4,323.35 540.89,322.7 541.38,322.07 541.87,321.44 542.36,320.81 542.85,320.18 543.33,319.55 543.82,318.91 544.31,318.26 544.8,317.6 545.08,323.05 545.37,328.3 545.65,333.38 545.94,338.27 546.22,343 546.51,347.56 546.79,351.96 547.08,356.21 547.37,360.31 547.65,364.27 547.93,368.09 548.22,371.78 548.5,375.34 548.79,378.77 549.07,382.09 549.36,385.28 549.64,388.37 549.93,391.35 550.21,394.23 550.5,397.01 550.78,399.69 551.07,402.27 551.36,404.77 551.64,407.18 551.92,409.5 552.21,411.75 552.5,413.91 552.78,416 553.06,418.02 553.35,419.97 553.63,421.85 553.92,423.66 554.2,425.41 554.49,427.1 554.77,428.73 555.06,430.31 555.34,431.83 555.63,433.29 555.91,434.71 556.2,436.08 556.49,437.39 556.77,438.67 557.05,439.9 557.34,441.08 557.62,442.23 557.91,443.33 558.19,444.4 558.48,445.42 558.76,446.42 559.05,447.37 559.33,448.3 559.62,449.19 559.9,450.05 560.19,450.89 560.48,451.69 560.76,452.46 561.04,453.21 561.33,453.93 561.62,454.63 561.9,455.3 562.29,450.95 562.69,446.78 563.09,442.57 563.48,438.11 563.88,433.18 564.27,427.41 564.66,420.23 565.06,412.39 565.45,404.8 565.85,398.34 566.25,392.83 566.64,387.72 567.03,382.99 567.43,378.61 567.83,374.55 568.22,370.74 568.62,367.17 569.01,363.81 569.4,360.65 569.8,357.68 570.19,354.87 570.59,352.17 570.99,349.58 571.38,347.14 571.77,344.87 572.17,342.8 572.57,340.94 572.96,339.2 573.36,337.57 573.75,336.03 574.14,334.59 574.54,333.24 574.94,331.98 575.33,330.81 575.73,329.71 576.12,328.65 576.51,327.64 576.91,326.67 577.31,325.75 577.7,324.87 578.1,324.05 578.49,323.29 578.88,322.58 579.28,321.93 579.67,321.34 580.07,320.78 580.47,320.25 580.86,319.75 581.25,319.28 581.65,318.83 582.05,318.4 582.44,317.99 582.84,317.58 583.23,317.18 583.62,316.78 584.02,316.38 584.41,315.98 584.81,315.57 585.21,315.14 585.6,314.7 585.89,320.34 586.18,325.78 586.47,331.04 586.76,336.11 587.05,341 587.34,345.73 587.63,350.28 587.92,354.68 588.21,358.93 588.5,363.03 588.79,366.99 589.08,370.8 589.37,374.49 589.66,378.05 589.95,381.48 590.24,384.79 590.53,387.99 590.82,391.08 591.11,394.06 591.4,396.93 591.69,399.71 591.98,402.39 592.27,404.97 592.56,407.47 592.85,409.87 593.14,412.2 593.43,414.44 593.72,416.61 594.01,418.7 594.3,420.71 594.59,422.66 594.88,424.54 595.17,426.35 595.46,428.1 595.75,429.79 596.04,431.42 596.33,432.99 596.62,434.51 596.91,435.98 597.2,437.39 597.49,438.76 597.78,440.08 598.07,441.35 598.36,442.58 598.65,443.76 598.94,444.9 599.23,446.01 599.52,447.07 599.81,448.1 600.1,449.09 600.39,450.05 600.68,450.97 600.97,451.87 601.26,452.73 601.55,453.56 601.84,454.36 602.13,455.14 602.42,455.88 602.71,456.6 603,457.3 603.46,450.22 603.92,443.03 604.38,435.84 604.85,428.75 605.31,421.9 605.77,415.38 606.23,409.09 606.69,402.84 607.15,396.73 607.62,390.85 608.08,385.3 608.54,380.17 609,375.56 609.46,371.33 609.92,367.29 610.39,363.5 610.85,359.98 611.31,356.77 611.77,353.91 612.23,351.42 612.7,349.19 613.16,347.14 613.62,345.26 614.08,343.53 614.54,341.92 615,340.44 615.47,339.04 615.93,337.72 616.39,336.46 616.85,335.25 617.31,334.11 617.77,333.02 618.24,331.99 618.7,331.01 619.16,330.07 619.62,329.19 620.08,328.35 620.54,327.54 621,326.74 621.47,325.96 621.93,325.2 622.39,324.47 622.85,323.78 623.31,323.13 623.78,322.51 624.24,321.95 624.7,321.43 625.16,320.97 625.62,320.57 626.08,320.22 626.55,319.9 627.01,319.6 627.47,319.33 627.93,319.07 628.39,318.83 628.85,318.59 629.32,318.35 629.78,318.11 630.24,317.86 630.7,317.6 631,323.16 631.3,328.53 631.61,333.71 631.91,338.71 632.21,343.53 632.51,348.19 632.81,352.69 633.11,357.02 633.42,361.21 633.72,365.25 634.02,369.15 634.32,372.92 634.62,376.55 634.92,380.06 635.23,383.44 635.53,386.71 635.83,389.86 636.13,392.91 636.43,395.84 636.73,398.68 637.03,401.41 637.34,404.06 637.64,406.6 637.94,409.06 638.24,411.44 638.54,413.73 638.85,415.94 639.15,418.08 639.45,420.14 639.75,422.13 640.05,424.04 640.35,425.9 640.65,427.68 640.96,429.41 641.26,431.08 641.56,432.68 641.86,434.23 642.16,435.73 642.47,437.18 642.77,438.57 643.07,439.92 643.37,441.22 643.67,442.47 643.97,443.68 644.27,444.85 644.58,445.98 644.88,447.07 645.18,448.12 645.48,449.13 645.78,450.11 646.08,451.05 646.39,451.96 646.69,452.84 646.99,453.69 647.29,454.51 647.59,455.3 647.89,456.07 648.2,456.8 648.5,457.51 648.8,458.2" fill="none" stroke="#000" stroke-width="2.2" stroke-linejoin="round" />
<text x="-0.3" y="553" font-size="14.5" text-anchor="start" fill="#111" >(e)</text>
<defs>
<filter id="bl1" x="-50%" y="-50%" width="200%" height="200%"><feGaussianBlur stdDeviation="0.9"/></filter>
<filter id="bl2" x="-100%" y="-100%" width="300%" height="300%"><feGaussianBlur stdDeviation="5"/></filter>
<filter id="bl3" x="-80%" y="-80%" width="260%" height="260%"><feGaussianBlur stdDeviation="1.8"/></filter>
<filter id="bl4" x="-100%" y="-100%" width="300%" height="300%"><feGaussianBlur stdDeviation="2.2"/></filter>
<linearGradient id="cbar" x1="0" y1="0" x2="0" y2="1"><stop offset="0" stop-color="#7a1a1e"/><stop offset="0.03" stop-color="#7c1c20"/><stop offset="0.033" stop-color="#8a5a50"/><stop offset="0.037" stop-color="#801c22"/><stop offset="0.084" stop-color="#a02028"/><stop offset="0.136" stop-color="#c83020"/><stop offset="0.188" stop-color="#e04c18"/><stop offset="0.239" stop-color="#ec7820"/><stop offset="0.291" stop-color="#f09828"/><stop offset="0.343" stop-color="#e8b830"/><stop offset="0.395" stop-color="#c8d040"/><stop offset="0.431" stop-color="#b0d048"/><stop offset="0.472" stop-color="#90c860"/><stop offset="0.535" stop-color="#80c080"/><stop offset="0.586" stop-color="#50b8a8"/><stop offset="0.638" stop-color="#30b0d8"/><stop offset="0.68" stop-color="#30a0e0"/><stop offset="0.716" stop-color="#3080c8"/><stop offset="0.768" stop-color="#3068b8"/><stop offset="0.82" stop-color="#2850a8"/><stop offset="0.871" stop-color="#2040a0"/><stop offset="0.908" stop-color="#1c3090"/><stop offset="0.949" stop-color="#1c2a70"/><stop offset="0.962" stop-color="#1e2a5c"/><stop offset="0.965" stop-color="#6a7088"/><stop offset="0.968" stop-color="#1e2a5c"/><stop offset="1" stop-color="#1e2a5c"/></linearGradient>
<linearGradient id="tg0" x1="0" y1="0" x2="0" y2="1"><stop offset="0" stop-color="#2a5cb8"/><stop offset="0.3" stop-color="#3a78c8"/><stop offset="0.7" stop-color="#3a80cc"/><stop offset="1" stop-color="#2a5cb8"/></linearGradient>
<linearGradient id="tg1" x1="0" y1="0" x2="0" y2="1"><stop offset="0" stop-color="#2a8ad8"/><stop offset="0.1" stop-color="#30b0e0"/><stop offset="0.22" stop-color="#60c0a0"/><stop offset="0.45" stop-color="#6cc090"/><stop offset="0.7" stop-color="#40b8c8"/><stop offset="0.85" stop-color="#30a0e0"/><stop offset="1" stop-color="#2a6cc0"/></linearGradient>
<linearGradient id="tg2" x1="0" y1="0" x2="0" y2="1"><stop offset="0" stop-color="#2a8ad8"/><stop offset="0.08" stop-color="#38b8d0"/><stop offset="0.2" stop-color="#a0c850"/><stop offset="0.45" stop-color="#b0cc40"/><stop offset="0.68" stop-color="#80c070"/><stop offset="0.82" stop-color="#30b0e0"/><stop offset="1" stop-color="#2a70c0"/></linearGradient>
<linearGradient id="tg3" x1="0" y1="0" x2="0" y2="1"><stop offset="0" stop-color="#2a8ad8"/><stop offset="0.08" stop-color="#40b8c0"/><stop offset="0.2" stop-color="#c0d040"/><stop offset="0.4" stop-color="#e0d020"/><stop offset="0.62" stop-color="#c8d030"/><stop offset="0.78" stop-color="#60c090"/><stop offset="0.88" stop-color="#30a8e0"/><stop offset="1" stop-color="#2a70c0"/></linearGradient>
<linearGradient id="tg4" x1="0" y1="0" x2="0" y2="1"><stop offset="0" stop-color="#2a8ad8"/><stop offset="0.1" stop-color="#40b8c0"/><stop offset="0.22" stop-color="#c0d040"/><stop offset="0.45" stop-color="#d8cc30"/><stop offset="0.65" stop-color="#b0cc40"/><stop offset="0.8" stop-color="#60c090"/><stop offset="0.9" stop-color="#30a8e0"/><stop offset="1" stop-color="#2a70c0"/></linearGradient>
<linearGradient id="tg5" x1="0" y1="0" x2="0" y2="1"><stop offset="0" stop-color="#2a8ad8"/><stop offset="0.08" stop-color="#40b8c0"/><stop offset="0.17" stop-color="#c0d040"/><stop offset="0.24" stop-color="#f0b030"/><stop offset="0.5" stop-color="#f0a030"/><stop offset="0.65" stop-color="#d0c830"/><stop offset="0.8" stop-color="#60c090"/><stop offset="0.9" stop-color="#30a8e0"/><stop offset="1" stop-color="#2a70c0"/></linearGradient>
<linearGradient id="w1" x1="0" y1="0" x2="0" y2="1"><stop offset="0" stop-color="#2850b0"/><stop offset="0.25" stop-color="#2c5cb8"/><stop offset="0.35" stop-color="#3470c4"/><stop offset="0.8" stop-color="#3a88d4"/><stop offset="1" stop-color="#3070c8"/></linearGradient>
<radialGradient id="hot8"><stop offset="0" stop-color="#e02818"/><stop offset="0.45" stop-color="#f06020"/><stop offset="1" stop-color="#f0a030" stop-opacity="0"/></radialGradient>
<radialGradient id="hot10"><stop offset="0" stop-color="#c81e1a"/><stop offset="0.5" stop-color="#e0401c"/><stop offset="1" stop-color="#f08a2c" stop-opacity="0"/></radialGradient>
<linearGradient id="bgv" x1="0" y1="0" x2="0" y2="1"><stop offset="0" stop-color="#1a3e98"/><stop offset="0.5" stop-color="#143a96"/><stop offset="1" stop-color="#103894"/></linearGradient>
</defs>
<text x="141.2" y="553" font-size="13" text-anchor="middle" fill="#111" >0 min</text>
<text x="220.4" y="553" font-size="13" text-anchor="middle" fill="#111" >2 min</text>
<text x="299.2" y="553" font-size="13" text-anchor="middle" fill="#111" >4 min</text>
<text x="378.4" y="553" font-size="13" text-anchor="middle" fill="#111" >6 min</text>
<text x="457.4" y="553" font-size="13" text-anchor="middle" fill="#111" >8 min</text>
<text x="536.9" y="553" font-size="13" text-anchor="middle" fill="#111" >10 min</text>
<defs>
<radialGradient id="halo"><stop offset="0" stop-color="#3a6cc0" stop-opacity="1"/><stop offset="1" stop-color="#3a6cc0" stop-opacity="0"/></radialGradient>
<linearGradient id="tb0" x1="0" y1="0" x2="0" y2="1"><stop offset="0" stop-color="#2a58b0"/><stop offset="0.21" stop-color="#3064bc"/><stop offset="0.58" stop-color="#3a78c8"/><stop offset="0.87" stop-color="#3470c0"/><stop offset="1" stop-color="#2c5cb4"/></linearGradient>
<linearGradient id="tb1" x1="0" y1="0" x2="0" y2="1"><stop offset="0" stop-color="#2a68c0"/><stop offset="0.08" stop-color="#2a80d0"/><stop offset="0.15" stop-color="#30a8e0"/><stop offset="0.24" stop-color="#50c0b0"/><stop offset="0.3" stop-color="#68c0a0"/><stop offset="0.53" stop-color="#60c0a8"/><stop offset="0.62" stop-color="#40b8d0"/><stop offset="0.77" stop-color="#30a0e0"/><stop offset="0.89" stop-color="#3480d0"/><stop offset="1" stop-color="#3064b8"/></linearGradient>
<linearGradient id="tb2" x1="0" y1="0" x2="0" y2="1"><stop offset="0" stop-color="#2a70c8"/><stop offset="0.06" stop-color="#2c90d8"/><stop offset="0.11" stop-color="#38b0d8"/><stop offset="0.19" stop-color="#88c468"/><stop offset="0.26" stop-color="#a8c850"/><stop offset="0.55" stop-color="#a8c850"/><stop offset="0.66" stop-color="#88c468"/><stop offset="0.77" stop-color="#40b0d8"/><stop offset="0.89" stop-color="#3488d8"/><stop offset="1" stop-color="#3064b8"/></linearGradient>
<linearGradient id="tb3" x1="0" y1="0" x2="0" y2="1"><stop offset="0" stop-color="#3890d8"/><stop offset="0.04" stop-color="#40b0e0"/><stop offset="0.11" stop-color="#70c090"/><stop offset="0.2" stop-color="#b8d040"/><stop offset="0.26" stop-color="#d8d028"/><stop offset="0.45" stop-color="#d8d028"/><stop offset="0.58" stop-color="#b8d040"/><stop offset="0.69" stop-color="#90c860"/><stop offset="0.8" stop-color="#40b8d8"/><stop offset="0.89" stop-color="#3a90d8"/><stop offset="1" stop-color="#3468c0"/></linearGradient>
<linearGradient id="tb4" x1="0" y1="0" x2="0" y2="1"><stop offset="0" stop-color="#2858b4"/><stop offset="0.06" stop-color="#2a68c0"/><stop offset="0.1" stop-color="#2c90d8"/><stop offset="0.14" stop-color="#38b0d8"/><stop offset="0.21" stop-color="#90c460"/><stop offset="0.3" stop-color="#b0cc48"/><stop offset="0.58" stop-color="#b8d040"/><stop offset="0.7" stop-color="#a0c858"/><stop offset="0.79" stop-color="#40b8d8"/><stop offset="0.89" stop-color="#3488d8"/><stop offset="1" stop-color="#3064b8"/></linearGradient>
<linearGradient id="tb5" x1="0" y1="0" x2="0" y2="1"><stop offset="0" stop-color="#3080d0"/><stop offset="0.03" stop-color="#38a8e0"/><stop offset="0.08" stop-color="#40b8d0"/><stop offset="0.14" stop-color="#a8cc48"/><stop offset="0.21" stop-color="#e0c030"/><stop offset="0.64" stop-color="#e0b830"/><stop offset="0.7" stop-color="#b0d048"/><stop offset="0.79" stop-color="#40b8d8"/><stop offset="0.89" stop-color="#3488d8"/><stop offset="1" stop-color="#3064b8"/></linearGradient>
<linearGradient id="hs10" x1="0" y1="0" x2="0" y2="1"><stop offset="0" stop-color="#f07a20"/><stop offset="0.45" stop-color="#e84a1a"/><stop offset="0.8" stop-color="#c01c16"/><stop offset="1" stop-color="#e05a20"/></linearGradient>
<linearGradient id="hs8" x1="0" y1="0" x2="0" y2="1"><stop offset="0" stop-color="#e0b030" stop-opacity="0.4"/><stop offset="0.45" stop-color="#f09028"/><stop offset="0.8" stop-color="#e04818"/><stop offset="1" stop-color="#e89030"/></linearGradient>
<linearGradient id="w2" x1="0" y1="0" x2="0" y2="1"><stop offset="0" stop-color="#1e4aa8"/><stop offset="0.25" stop-color="#2858b4"/><stop offset="0.45" stop-color="#3070c0"/><stop offset="0.8" stop-color="#3a88d4"/><stop offset="1" stop-color="#3278c8"/></linearGradient>
</defs>
<svg x="105" y="558.7" width="72.4" height="96" viewBox="105 558.7 72.4 96" overflow="hidden">
<rect x="105" y="558.7" width="72.4" height="96" fill="#0c3898"/>
<ellipse cx="135" cy="608.7" rx="22" ry="34" fill="url(#halo)" opacity="0.147"/>
<path d="M128.5,584.2 L141.5,584.2 L137.75,633.7 Q135,636.7 132.25,633.7 Z" fill="url(#w2)" opacity="0.42" filter="url(#bl3)"/>
</svg>
<svg x="184.2" y="558.7" width="72.4" height="96" viewBox="184.2 558.7 72.4 96" overflow="hidden">
<rect x="184.2" y="558.7" width="72.4" height="96" fill="#0c3898"/>
<ellipse cx="214.2" cy="608.7" rx="22" ry="34" fill="url(#halo)" opacity="0.175"/>
<path d="M207.7,584.2 L220.7,584.2 L216.95,633.7 Q214.2,636.7 211.45,633.7 Z" fill="url(#w2)" opacity="0.5" filter="url(#bl3)"/>
</svg>
<svg x="263" y="558.7" width="72.4" height="96" viewBox="263 558.7 72.4 96" overflow="hidden">
<rect x="263" y="558.7" width="72.4" height="96" fill="#0c3898"/>
<ellipse cx="293" cy="608.7" rx="22" ry="34" fill="url(#halo)" opacity="0.217"/>
<path d="M286.5,584.2 L299.5,584.2 L295.75,633.7 Q293,636.7 290.25,633.7 Z" fill="url(#w2)" opacity="0.62" filter="url(#bl3)"/>
</svg>
<svg x="342.2" y="558.7" width="72.4" height="96" viewBox="342.2 558.7 72.4 96" overflow="hidden">
<rect x="342.2" y="558.7" width="72.4" height="96" fill="#0c3898"/>
<ellipse cx="372.2" cy="608.7" rx="22" ry="34" fill="url(#halo)" opacity="0.26249999999999996"/>
<path d="M365.7,584.2 L378.7,584.2 L374.95,633.7 Q372.2,636.7 369.45,633.7 Z" fill="url(#w2)" opacity="0.75" filter="url(#bl3)"/>
</svg>
<svg x="421.2" y="558.7" width="72.4" height="96" viewBox="421.2 558.7 72.4 96" overflow="hidden">
<rect x="421.2" y="558.7" width="72.4" height="96" fill="#0c3898"/>
<ellipse cx="451.2" cy="608.7" rx="22" ry="34" fill="url(#halo)" opacity="0.287"/>
<path d="M444.7,584.2 L457.7,584.2 L453.95,633.7 Q451.2,636.7 448.45,633.7 Z" fill="url(#w2)" opacity="0.82" filter="url(#bl3)"/>
</svg>
<svg x="500.7" y="558.7" width="72.4" height="96" viewBox="500.7 558.7 72.4 96" overflow="hidden">
<rect x="500.7" y="558.7" width="72.4" height="96" fill="#0c3898"/>
<ellipse cx="530.7" cy="608.7" rx="22" ry="34" fill="url(#halo)" opacity="0.315"/>
<path d="M524.2,584.2 L537.2,584.2 L533.45,633.7 Q530.7,636.7 527.95,633.7 Z" fill="url(#w2)" opacity="0.9" filter="url(#bl3)"/>
</svg>
<svg x="105" y="660.9" width="72.4" height="96" viewBox="105 660.9 72.4 96" overflow="hidden">
<rect x="105" y="660.9" width="72.4" height="96" fill="#103c9a"/>
<ellipse cx="141.8" cy="705.9" rx="34" ry="50" fill="url(#halo)" opacity="0.3"/>
<path d="M135.05,687.9 L148.55,687.9 L147.55,718.9 C147.25,729.25 145.1,738.9 144.3,740.7 Q141.8,742.9 139.3,740.7 C138.5,738.9 136.35,729.25 136.05,718.9 Z" fill="url(#tb0)" opacity="0.8" filter="url(#bl3)"/>
</svg>
<svg x="184.2" y="660.9" width="72.4" height="96" viewBox="184.2 660.9 72.4 96" overflow="hidden">
<rect x="184.2" y="660.9" width="72.4" height="96" fill="#103c9a"/>
<ellipse cx="221" cy="705.9" rx="34" ry="50" fill="url(#halo)" opacity="0.45"/>
<path d="M209.75,689.9 L232.25,689.9 L231.5,713.9 L230.3,720.9 L228.2,727.9 L225.12,738.4 Q221,745.4 216.88,738.4 L216.88,738.4 L213.8,727.9 L211.7,720.9 L210.5,713.9 L209.75,689.9 Z" fill="#3a78cc" opacity="0.35" filter="url(#bl2)"/>
<path d="M213.5,689.9 L228.5,689.9 L228,713.9 L227.2,720.9 L225.8,727.9 L223.75,738.4 Q221,745.4 218.25,738.4 L218.25,738.4 L216.2,727.9 L214.8,720.9 L214,713.9 L213.5,689.9 Z" fill="url(#tb1)" opacity="1" filter="url(#bl1)"/>
<ellipse cx="221" cy="686.4" rx="7.5" ry="2" fill="#0e3490" opacity="0.55" filter="url(#bl1)"/>
</svg>
<svg x="263" y="660.9" width="72.4" height="96" viewBox="263 660.9 72.4 96" overflow="hidden">
<rect x="263" y="660.9" width="72.4" height="96" fill="#103c9a"/>
<ellipse cx="299.8" cy="705.9" rx="34" ry="50" fill="url(#halo)" opacity="0.55"/>
<path d="M288.55,689.9 L311.05,689.9 L310.3,713.9 L309.1,720.9 L307,727.9 L303.93,738.4 Q299.8,745.4 295.68,738.4 L295.68,738.4 L292.6,727.9 L290.5,720.9 L289.3,713.9 L288.55,689.9 Z" fill="#3a78cc" opacity="0.35" filter="url(#bl2)"/>
<path d="M292.3,689.9 L307.3,689.9 L306.8,713.9 L306,720.9 L304.6,727.9 L302.55,738.4 Q299.8,745.4 297.05,738.4 L297.05,738.4 L295,727.9 L293.6,720.9 L292.8,713.9 L292.3,689.9 Z" fill="url(#tb2)" opacity="1" filter="url(#bl1)"/>
<ellipse cx="299.8" cy="686.4" rx="7.5" ry="2" fill="#0e3490" opacity="0.55" filter="url(#bl1)"/>
</svg>
<svg x="342.2" y="660.9" width="72.4" height="96" viewBox="342.2 660.9 72.4 96" overflow="hidden">
<rect x="342.2" y="660.9" width="72.4" height="96" fill="#103c9a"/>
<ellipse cx="379" cy="705.9" rx="34" ry="50" fill="url(#halo)" opacity="0.6"/>
<path d="M367.75,689.9 L390.25,689.9 L389.5,713.9 L388.3,720.9 L386.2,727.9 L383.12,738.4 Q379,745.4 374.88,738.4 L374.88,738.4 L371.8,727.9 L369.7,720.9 L368.5,713.9 L367.75,689.9 Z" fill="#3a78cc" opacity="0.35" filter="url(#bl2)"/>
<path d="M371.5,689.9 L386.5,689.9 L386,713.9 L385.2,720.9 L383.8,727.9 L381.75,738.4 Q379,745.4 376.25,738.4 L376.25,738.4 L374.2,727.9 L372.8,720.9 L372,713.9 L371.5,689.9 Z" fill="url(#tb3)" opacity="1" filter="url(#bl1)"/>
<ellipse cx="379" cy="686.4" rx="7.5" ry="2" fill="#0e3490" opacity="0.55" filter="url(#bl1)"/>
</svg>
<svg x="421.2" y="660.9" width="72.4" height="96" viewBox="421.2 660.9 72.4 96" overflow="hidden">
<rect x="421.2" y="660.9" width="72.4" height="96" fill="#103c9a"/>
<ellipse cx="458" cy="705.9" rx="34" ry="50" fill="url(#halo)" opacity="0.65"/>
<path d="M446.75,689.9 L469.25,689.9 L468.5,713.9 L467.3,720.9 L465.2,727.9 L462.12,738.4 Q458,745.4 453.88,738.4 L453.88,738.4 L450.8,727.9 L448.7,720.9 L447.5,713.9 L446.75,689.9 Z" fill="#3a78cc" opacity="0.35" filter="url(#bl2)"/>
<path d="M450.5,689.9 L465.5,689.9 L465,713.9 L464.2,720.9 L462.8,727.9 L460.75,738.4 Q458,745.4 455.25,738.4 L455.25,738.4 L453.2,727.9 L451.8,720.9 L451,713.9 L450.5,689.9 Z" fill="url(#tb4)" opacity="1" filter="url(#bl1)"/>
<ellipse cx="458" cy="686.4" rx="7.5" ry="2" fill="#0e3490" opacity="0.55" filter="url(#bl1)"/>
<path d="M460.2,704.9 Q462.4,702.9 463.8,706.9 L463.8,720.9 Q462.5,724.4 459.5,721.9 Z" fill="url(#hs8)" filter="url(#bl1)"/>
<ellipse cx="461.4" cy="718.9" rx="2.2" ry="2.8" fill="#e04418" opacity="0.75" filter="url(#bl1)"/>
</svg>
<svg x="500.7" y="660.9" width="72.4" height="96" viewBox="500.7 660.9 72.4 96" overflow="hidden">
<rect x="500.7" y="660.9" width="72.4" height="96" fill="#103c9a"/>
<ellipse cx="537.5" cy="705.9" rx="34" ry="50" fill="url(#halo)" opacity="0.7"/>
<path d="M526.25,689.9 L548.75,689.9 L548,713.9 L546.8,720.9 L544.7,727.9 L541.62,738.4 Q537.5,745.4 533.38,738.4 L533.38,738.4 L530.3,727.9 L528.2,720.9 L527,713.9 L526.25,689.9 Z" fill="#3a78cc" opacity="0.35" filter="url(#bl2)"/>
<path d="M530,689.9 L545,689.9 L544.5,713.9 L543.7,720.9 L542.3,727.9 L540.25,738.4 Q537.5,745.4 534.75,738.4 L534.75,738.4 L532.7,727.9 L531.3,720.9 L530.5,713.9 L530,689.9 Z" fill="url(#tb5)" opacity="1" filter="url(#bl1)"/>
<ellipse cx="537.5" cy="686.4" rx="7.5" ry="2" fill="#0e3490" opacity="0.55" filter="url(#bl1)"/>
<path d="M537.9,701.9 L543.7,701.9 L543.7,720.9 Q543,723.9 540.5,723.4 Q537.9,722.9 537.9,718.9 Z" fill="url(#hs10)" filter="url(#bl1)"/>
<ellipse cx="541.3" cy="718.4" rx="2.4" ry="3.2" fill="#b81814" opacity="0.75" filter="url(#bl1)"/>
</svg>
<rect x="576.2" y="558.8" width="10.4" height="199.2" fill="url(#cbar)"/>
<path d="M603.8,564.5 H593.5 Q591.5,564.5 591.5,566.5 V751 Q591.5,753 593.5,753 H603.8" fill="none" stroke="#2a2a2a" stroke-width="1.1"/>
<text x="607.5" y="569.3" font-size="13" text-anchor="start" fill="#111" >60.0 °C</text>
<text x="607.5" y="759.1" font-size="13" text-anchor="start" fill="#111" >20.0 °C</text>
<text x="100" y="611.2" font-size="13.3" text-anchor="end" fill="#111" >Water+808 nm</text>
<text x="99.5" y="713.6" font-size="13.2" text-anchor="end" fill="#111" >LPPFA+808 nm</text>
<path d="M64.1,795.8 H318.2 V980 H64.1 Z" fill="none" stroke="#000" stroke-width="1.8"/>
<line x1="57.6" y1="980" x2="64.1" y2="980" stroke="#000" stroke-width="1.8" />
<text x="52.4" y="984.7" font-size="13.2" text-anchor="end" fill="#111" >0</text>
<line x1="57.6" y1="943.2" x2="64.1" y2="943.2" stroke="#000" stroke-width="1.8" />
<text x="52.4" y="947.9" font-size="13.2" text-anchor="end" fill="#111" >20</text>
<line x1="57.6" y1="906.4" x2="64.1" y2="906.4" stroke="#000" stroke-width="1.8" />
<text x="52.4" y="911.1" font-size="13.2" text-anchor="end" fill="#111" >40</text>
<line x1="57.6" y1="869.6" x2="64.1" y2="869.6" stroke="#000" stroke-width="1.8" />
<text x="52.4" y="874.3" font-size="13.2" text-anchor="end" fill="#111" >60</text>
<line x1="57.6" y1="832.8" x2="64.1" y2="832.8" stroke="#000" stroke-width="1.8" />
<text x="52.4" y="837.5" font-size="13.2" text-anchor="end" fill="#111" >80</text>
<line x1="57.6" y1="796" x2="64.1" y2="796" stroke="#000" stroke-width="1.8" />
<text x="52.4" y="800.7" font-size="13.2" text-anchor="end" fill="#111" >100</text>
<line x1="64" y1="980" x2="64" y2="987.6" stroke="#000" stroke-width="1.8" />
<text x="64" y="1001.4" font-size="13.2" text-anchor="middle" fill="#111" >0</text>
<line x1="183.6" y1="980" x2="183.6" y2="987.6" stroke="#000" stroke-width="1.8" />
<text x="183.6" y="1001.4" font-size="13.2" text-anchor="middle" fill="#111" >4</text>
<line x1="303.2" y1="980" x2="303.2" y2="987.6" stroke="#000" stroke-width="1.8" />
<text x="303.2" y="1001.4" font-size="13.2" text-anchor="middle" fill="#111" >8</text>
<text x="0" y="0" font-size="13.4" text-anchor="middle" fill="#111" transform="translate(22.5,887.8) rotate(-90)">Release rate (%)</text>
<text x="191.5" y="1015" font-size="13.4" text-anchor="middle" fill="#111" >Time (h)</text>
<text x="-0.3" y="791.6" font-size="14.8" text-anchor="start" fill="#111" >(f)</text>
<polyline points="64,980 93.9,976 123.8,975.2 153.7,970.9 183.6,964.2 213.5,955.5 243.4,951.5 273.3,948.8 303.2,946.4" fill="none" stroke="#3a5cb8" stroke-width="1.3" stroke-linejoin="round" />
<circle cx="64" cy="980" r="2" fill="#1d3f9a"/>
<circle cx="93.9" cy="976" r="2" fill="#1d3f9a"/>
<circle cx="123.8" cy="975.2" r="2" fill="#1d3f9a"/>
<circle cx="153.7" cy="970.9" r="2" fill="#1d3f9a"/>
<circle cx="183.6" cy="964.2" r="2" fill="#1d3f9a"/>
<circle cx="213.5" cy="955.5" r="2" fill="#1d3f9a"/>
<circle cx="243.4" cy="951.5" r="2" fill="#1d3f9a"/>
<circle cx="273.3" cy="948.8" r="2" fill="#1d3f9a"/>
<circle cx="303.2" cy="946.4" r="2" fill="#1d3f9a"/>
<polyline points="64,980 93.9,975.2 123.8,972.8 153.7,966.1 183.6,956.7 213.5,948.8 243.4,940.9 273.3,933.8 303.2,931.8" fill="none" stroke="#e8282a" stroke-width="1.3" stroke-linejoin="round" />
<path d="M64,982.39 L66.1,978.4 L61.9,978.4Z" fill="#e01818"/>
<path d="M93.9,977.59 L96,973.6 L91.8,973.6Z" fill="#e01818"/>
<path d="M123.8,975.19 L125.9,971.2 L121.7,971.2Z" fill="#e01818"/>
<path d="M153.7,968.49 L155.8,964.5 L151.6,964.5Z" fill="#e01818"/>
<path d="M183.6,959.09 L185.7,955.1 L181.5,955.1Z" fill="#e01818"/>
<path d="M213.5,951.19 L215.6,947.2 L211.4,947.2Z" fill="#e01818"/>
<path d="M243.4,943.29 L245.5,939.3 L241.3,939.3Z" fill="#e01818"/>
<path d="M273.3,936.19 L275.4,932.2 L271.2,932.2Z" fill="#e01818"/>
<path d="M303.2,934.19 L305.3,930.2 L301.1,930.2Z" fill="#e01818"/>
<polyline points="64,980 93.9,969.7 123.8,961 153.7,949.2 183.6,931.8 213.5,905.8 243.4,894.8 273.3,882.6 303.2,879" fill="none" stroke="#3cae3c" stroke-width="1.3" stroke-linejoin="round" />
<path d="M64,977.61 L66.1,981.6 L61.9,981.6Z" fill="#2a9e2a"/>
<path d="M93.9,967.31 L96,971.3 L91.8,971.3Z" fill="#2a9e2a"/>
<path d="M123.8,958.61 L125.9,962.6 L121.7,962.6Z" fill="#2a9e2a"/>
<path d="M153.7,946.81 L155.8,950.8 L151.6,950.8Z" fill="#2a9e2a"/>
<path d="M183.6,929.41 L185.7,933.4 L181.5,933.4Z" fill="#2a9e2a"/>
<path d="M213.5,903.41 L215.6,907.4 L211.4,907.4Z" fill="#2a9e2a"/>
<path d="M243.4,892.41 L245.5,896.4 L241.3,896.4Z" fill="#2a9e2a"/>
<path d="M273.3,880.21 L275.4,884.2 L271.2,884.2Z" fill="#2a9e2a"/>
<path d="M303.2,876.61 L305.3,880.6 L301.1,880.6Z" fill="#2a9e2a"/>
<polyline points="64,980 93.9,967.3 123.8,954.7 153.7,940.9 183.6,918.4 213.5,896 243.4,878.6 273.3,860.5 303.2,851" fill="none" stroke="#7a4fb0" stroke-width="1.3" stroke-linejoin="round" />
<path d="M64,982.39 L66.1,978.4 L61.9,978.4Z" fill="#6a3fa0"/>
<path d="M93.9,969.69 L96,965.7 L91.8,965.7Z" fill="#6a3fa0"/>
<path d="M123.8,957.09 L125.9,953.1 L121.7,953.1Z" fill="#6a3fa0"/>
<path d="M153.7,943.29 L155.8,939.3 L151.6,939.3Z" fill="#6a3fa0"/>
<path d="M183.6,920.79 L185.7,916.8 L181.5,916.8Z" fill="#6a3fa0"/>
<path d="M213.5,898.39 L215.6,894.4 L211.4,894.4Z" fill="#6a3fa0"/>
<path d="M243.4,880.99 L245.5,877 L241.3,877Z" fill="#6a3fa0"/>
<path d="M273.3,862.89 L275.4,858.9 L271.2,858.9Z" fill="#6a3fa0"/>
<path d="M303.2,853.39 L305.3,849.4 L301.1,849.4Z" fill="#6a3fa0"/>
<line x1="71.1" y1="807.1" x2="89.9" y2="807.1" stroke="#7d95cf" stroke-width="1.8" />
<circle cx="80.5" cy="807.1" r="2.2" fill="#1d3f9a"/>
<text x="94.6" y="810.4" font-size="11.1" text-anchor="start" fill="#111" >pH=7.4–808 nm</text>
<line x1="71.1" y1="826.5" x2="89.9" y2="826.5" stroke="#e8383a" stroke-width="1.8" />
<path d="M80.5,829.01 L82.7,824.83 L78.3,824.83Z" fill="#e01818"/>
<text x="94.6" y="829.8" font-size="11.1" text-anchor="start" fill="#111" >pH=7.4+808 nm</text>
<line x1="194.9" y1="807.1" x2="213.3" y2="807.1" stroke="#60bc60" stroke-width="1.8" />
<path d="M204.1,804.59 L206.3,808.77 L201.9,808.77Z" fill="#2a9e2a"/>
<text x="218.6" y="810.4" font-size="11.1" text-anchor="start" fill="#111" >pH=5.5–808 nm</text>
<line x1="194.9" y1="826.5" x2="213.3" y2="826.5" stroke="#9070c0" stroke-width="1.8" />
<path d="M204.1,829.01 L206.3,824.83 L201.9,824.83Z" fill="#6a3fa0"/>
<text x="218.6" y="829.8" font-size="11.1" text-anchor="start" fill="#111" >pH=5.5+808 nm</text>
</svg></body></html>
